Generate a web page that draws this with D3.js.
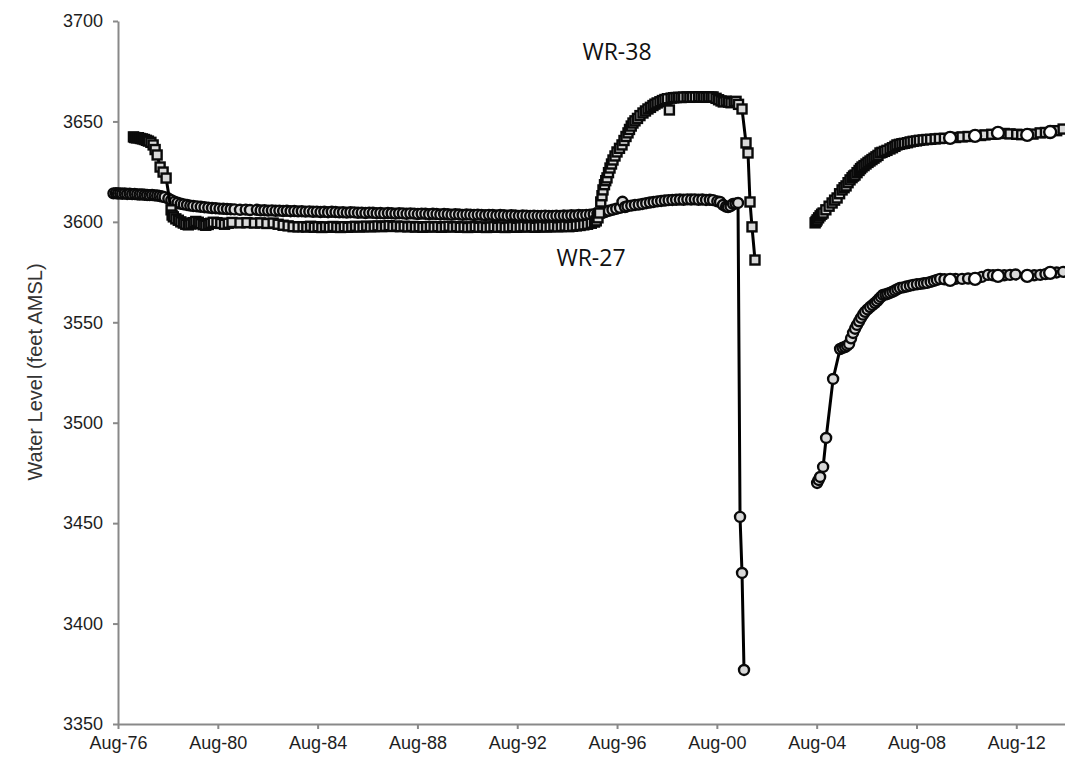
<!DOCTYPE html>
<html>
<head>
<meta charset="utf-8">
<script src="https://cdn.jsdelivr.net/npm/d3@7"></script>
<style>
  body { margin: 0; background: #fff; }
  svg { display: block; }
  .axis text { font-family: "Liberation Sans", Arial, sans-serif; font-size: 18px; fill: #1e1e1e; }
  .axis path, .axis line { stroke: #898989; stroke-width: 2; }
</style>
</head>
<body>
<script>
// water levels, [decimal year, feet AMSL]
const wr27Before = [
  [1976.40,3614.2],[1976.50,3614.3],[1976.58,3614.1],[1976.67,3614.2],[1976.75,3614.0],[1976.85,3614.1],
  [1976.95,3613.9],[1977.05,3614.0],[1977.15,3613.8],[1977.25,3613.9],[1977.35,3613.7],[1977.45,3613.6],
  [1977.55,3613.7],[1977.65,3613.5],[1977.75,3613.4],[1977.85,3613.3],[1977.95,3613.4],[1978.05,3613.2],
  [1978.15,3613.1],[1978.25,3612.9],[1978.35,3612.6],[1978.45,3612.3],[1978.60,3611.6],[1978.72,3610.8],
  [1978.85,3610.0],[1978.97,3609.5],[1979.10,3609.0],[1979.22,3608.7],[1979.35,3608.4],[1979.48,3608.1],
  [1979.60,3607.9],[1979.75,3607.7],[1979.90,3607.5],[1980.05,3607.3],[1980.20,3607.1],[1980.35,3606.9],
  [1980.50,3606.8],[1980.65,3606.6],[1980.80,3606.5],[1980.95,3606.4],[1981.10,3606.3],[1981.25,3606.2],
  [1981.47,3606.0],[1981.70,3606.1],[1981.87,3605.9],[1982.15,3606.0],[1982.30,3605.7],[1982.45,3605.8],
  [1982.60,3605.6],[1982.75,3605.7],[1982.90,3605.5],[1983.05,3605.6],[1983.20,3605.4],[1983.35,3605.5],
  [1983.50,3605.3],[1983.65,3605.4],[1983.80,3605.2],[1983.95,3605.3],[1984.10,3605.1],[1984.25,3605.2],
  [1984.40,3605.0],[1984.55,3605.1],[1984.70,3604.9],[1984.85,3605.0],[1985.00,3604.8],[1985.15,3605.0],
  [1985.30,3604.9],[1985.45,3604.7],[1985.60,3604.8],[1985.75,3604.6],[1985.90,3604.8],[1986.05,3604.7],
  [1986.20,3604.5],[1986.35,3604.6],[1986.50,3604.4],[1986.65,3604.6],[1986.80,3604.5],[1986.95,3604.3],
  [1987.10,3604.4],[1987.25,3604.2],[1987.40,3604.4],[1987.55,3604.3],[1987.70,3604.1],[1987.85,3604.3],
  [1988.00,3604.2],[1988.15,3604.0],[1988.30,3604.2],[1988.45,3604.1],[1988.60,3603.9],[1988.75,3604.1],
  [1988.90,3604.0],[1989.05,3603.8],[1989.20,3604.0],[1989.35,3603.9],[1989.50,3603.7],[1989.65,3603.9],
  [1989.80,3603.8],[1989.95,3603.6],[1990.10,3603.8],[1990.25,3603.7],[1990.40,3603.5],[1990.55,3603.7],
  [1990.70,3603.6],[1990.85,3603.4],[1991.00,3603.6],[1991.15,3603.5],[1991.30,3603.3],[1991.45,3603.5],
  [1991.60,3603.4],[1991.75,3603.2],[1991.90,3603.4],[1992.05,3603.3],[1992.20,3603.1],[1992.35,3603.3],
  [1992.50,3603.2],[1992.65,3603.0],[1992.80,3603.2],[1992.95,3603.1],[1993.10,3602.9],[1993.25,3603.1],
  [1993.40,3603.0],[1993.55,3602.9],[1993.70,3603.1],[1993.85,3603.0],[1994.00,3602.9],[1994.15,3603.1],
  [1994.30,3603.0],[1994.45,3603.2],[1994.60,3603.1],[1994.75,3603.3],[1994.90,3603.2],[1995.05,3603.4],
  [1995.20,3603.3],[1995.35,3603.5],[1995.50,3603.6],[1995.65,3603.8],[1995.80,3604.0],[1995.95,3604.3],
  [1996.10,3604.9],[1996.25,3605.5],[1996.40,3606.0],[1996.55,3606.5],[1996.70,3607.0],[1996.80,3610.0],
  [1996.90,3607.4],[1997.00,3607.8],[1997.15,3608.1],[1997.30,3608.4],[1997.45,3608.6],[1997.60,3608.9],
  [1997.75,3609.3],[1997.90,3609.6],[1998.05,3609.9],[1998.20,3610.2],[1998.35,3610.4],[1998.50,3610.6],
  [1998.65,3610.8],[1998.80,3610.9],[1998.95,3611.0],[1999.10,3611.1],[1999.25,3611.0],[1999.40,3611.2],
  [1999.55,3611.1],[1999.70,3611.2],[1999.85,3611.0],[2000.00,3611.1],[2000.15,3610.9],[2000.30,3611.0],
  [2000.43,3610.8],[2000.60,3610.2],[2000.71,3609.9],[2000.83,3608.4],[2000.95,3607.6],[2001.03,3607.4],
  [2001.13,3607.8],[2001.23,3608.9],[2001.33,3609.1],[2001.43,3609.4],[2001.51,3453.1],[2001.59,3425.2],
  [2001.67,3376.9]
];

const wr27After = [
  [2004.60,3470.0],[2004.66,3471.5],[2004.72,3473.0],[2004.84,3478.0],[2004.96,3492.4],[2005.24,3521.8],
  [2005.52,3536.7],[2005.62,3537.3],[2005.72,3537.7],[2005.80,3538.4],[2005.88,3539.2],[2005.96,3542.0],
  [2006.04,3544.7],[2006.12,3546.8],[2006.20,3548.7],[2006.28,3550.5],[2006.36,3552.2],[2006.44,3553.8],
  [2006.52,3555.2],[2006.62,3556.4],[2006.72,3557.6],[2006.82,3558.6],[2006.92,3559.6],[2007.00,3560.5],
  [2007.08,3561.6],[2007.16,3562.6],[2007.24,3563.6],[2007.34,3563.8],[2007.42,3564.2],[2007.52,3564.6],
  [2007.62,3565.2],[2007.72,3565.8],[2007.82,3566.5],[2007.92,3567.1],[2008.05,3567.4],[2008.18,3567.8],
  [2008.32,3568.2],[2008.45,3568.6],[2008.60,3568.9],[2008.75,3569.1],[2008.88,3569.4],[2009.01,3569.6],
  [2009.15,3570.1],[2009.28,3570.6],[2009.40,3571.1],[2009.53,3571.6],[2009.70,3571.4],[2010.15,3571.6],
  [2010.41,3571.6],[2010.65,3571.8],[2011.20,3572.6],[2011.45,3573.6],[2011.65,3573.4],[2012.10,3573.4],
  [2012.33,3573.6],[2012.55,3573.8],[2013.30,3573.4],[2013.54,3573.6],[2013.75,3574.0],[2014.20,3574.8],
  [2014.46,3575.1]
];

const wr38Before = [
  [1977.20,3642.3],[1977.25,3642.0],[1977.32,3641.8],[1977.40,3641.9],[1977.48,3641.5],[1977.56,3641.3],
  [1977.64,3641.0],[1977.72,3640.6],[1977.80,3640.2],[1977.90,3639.6],[1977.99,3638.3],[1978.07,3636.0],
  [1978.15,3633.3],[1978.27,3627.3],[1978.39,3624.8],[1978.51,3621.8],[1978.71,3606.0],[1978.75,3603.4],
  [1978.80,3602.5],[1978.90,3601.5],[1979.00,3600.8],[1979.10,3600.0],[1979.20,3599.4],[1979.30,3598.8],
  [1979.40,3598.5],[1979.50,3598.9],[1979.60,3599.6],[1979.70,3600.2],[1979.80,3599.8],[1979.90,3599.1],
  [1980.00,3598.6],[1980.10,3598.3],[1980.20,3598.7],[1980.30,3599.3],[1980.40,3599.8],[1980.55,3599.6],
  [1980.70,3599.2],[1980.85,3598.8],[1981.00,3599.3],[1981.15,3599.7],[1981.47,3599.5],[1981.75,3599.6],
  [1982.05,3599.4],[1982.30,3599.5],[1982.55,3599.2],[1982.80,3599.4],[1983.00,3598.8],[1983.20,3598.3],
  [1983.40,3598.0],[1983.60,3597.6],[1983.80,3597.5],[1984.00,3597.6],[1984.15,3597.4],[1984.30,3597.8],
  [1984.45,3597.3],[1984.60,3597.6],[1984.75,3597.2],[1984.90,3597.5],[1985.05,3597.3],[1985.20,3597.7],
  [1985.35,3597.4],[1985.50,3597.2],[1985.65,3597.6],[1985.80,3597.3],[1985.95,3597.5],[1986.10,3597.8],
  [1986.25,3597.4],[1986.40,3597.6],[1986.55,3597.9],[1986.70,3597.5],[1986.85,3597.7],[1987.00,3598.0],
  [1987.15,3597.6],[1987.30,3597.8],[1987.45,3598.1],[1987.60,3597.7],[1987.75,3597.9],[1987.90,3597.6],
  [1988.05,3597.8],[1988.20,3597.5],[1988.35,3597.7],[1988.50,3597.4],[1988.65,3597.6],[1988.80,3597.3],
  [1988.95,3597.5],[1989.10,3597.7],[1989.25,3597.4],[1989.40,3597.6],[1989.55,3597.3],[1989.70,3597.5],
  [1989.85,3597.8],[1990.00,3597.4],[1990.15,3597.6],[1990.30,3597.3],[1990.45,3597.5],[1990.60,3597.2],
  [1990.75,3597.4],[1990.90,3597.6],[1991.05,3597.3],[1991.20,3597.5],[1991.35,3597.2],[1991.50,3597.4],
  [1991.65,3597.6],[1991.80,3597.3],[1991.95,3597.5],[1992.10,3597.2],[1992.25,3597.4],[1992.40,3597.6],
  [1992.55,3597.3],[1992.70,3597.5],[1992.85,3597.7],[1993.00,3597.4],[1993.15,3597.6],[1993.30,3597.3],
  [1993.45,3597.5],[1993.60,3597.7],[1993.75,3597.4],[1993.90,3597.6],[1994.05,3597.8],[1994.20,3597.5],
  [1994.35,3597.7],[1994.50,3597.9],[1994.65,3597.6],[1994.80,3597.8],[1994.95,3598.0],[1995.10,3598.2],
  [1995.25,3598.5],[1995.40,3598.8],[1995.55,3599.3],[1995.68,3599.9],[1995.75,3600.5],[1995.82,3602.0],
  [1995.88,3604.4],[1995.93,3609.9],[1995.98,3613.0],[1996.02,3615.9],[1996.08,3618.5],[1996.13,3620.5],
  [1996.18,3621.9],[1996.24,3624.5],[1996.30,3626.8],[1996.36,3628.8],[1996.42,3630.8],[1996.50,3632.8],
  [1996.58,3634.8],[1996.68,3636.6],[1996.78,3638.3],[1996.86,3640.5],[1996.94,3642.5],[1997.02,3644.3],
  [1997.08,3646.0],[1997.15,3647.7],[1997.22,3649.2],[1997.30,3650.3],[1997.40,3651.5],[1997.50,3652.9],
  [1997.62,3654.2],[1997.72,3655.2],[1997.82,3656.2],[1997.92,3657.0],[1998.02,3657.9],[1998.10,3658.6],
  [1998.19,3659.2],[1998.30,3659.8],[1998.40,3660.4],[1998.50,3660.9],[1998.60,3661.3],[1998.68,3655.7],
  [1998.75,3661.6],[1998.85,3661.8],[1998.95,3661.9],[1999.05,3662.0],[1999.15,3661.9],[1999.25,3662.1],
  [1999.39,3662.2],[1999.50,3662.0],[1999.60,3662.2],[1999.72,3662.1],[1999.85,3662.3],[1999.95,3662.1],
  [2000.05,3662.2],[2000.15,3662.0],[2000.25,3662.2],[2000.35,3662.1],[2000.43,3662.2],[2000.55,3661.5],
  [2000.65,3660.8],[2000.75,3660.2],[2000.84,3659.7],[2000.95,3660.1],[2001.05,3659.6],[2001.15,3659.3],
  [2001.27,3659.8],[2001.35,3660.0],[2001.45,3658.5],[2001.59,3656.2],[2001.75,3639.3],[2001.83,3634.3],
  [2001.91,3609.9],[2001.99,3597.5],[2002.11,3581.0]
];

const wr38After = [
  [2004.52,3599.5],[2004.56,3600.2],[2004.60,3601.0],[2004.66,3602.0],[2004.72,3603.0],[2004.78,3603.8],
  [2004.84,3604.4],[2004.95,3606.0],[2005.08,3607.8],[2005.20,3609.4],[2005.30,3610.8],[2005.40,3611.9],
  [2005.50,3614.0],[2005.60,3615.9],[2005.68,3617.0],[2005.76,3617.9],[2005.84,3619.5],[2005.92,3620.9],
  [2006.00,3622.0],[2006.06,3622.8],[2006.12,3623.3],[2006.20,3624.5],[2006.28,3625.6],[2006.34,3626.5],
  [2006.40,3627.3],[2006.48,3628.0],[2006.56,3628.8],[2006.64,3629.6],[2006.72,3630.3],[2006.80,3631.0],
  [2006.88,3631.7],[2006.96,3632.4],[2007.04,3633.1],[2007.12,3634.3],[2007.20,3634.6],[2007.30,3635.1],
  [2007.40,3635.6],[2007.52,3636.3],[2007.62,3636.9],[2007.72,3637.6],[2007.80,3638.3],[2007.90,3638.6],
  [2008.00,3638.9],[2008.10,3639.1],[2008.22,3639.4],[2008.33,3639.8],[2008.45,3640.1],[2008.58,3640.3],
  [2008.70,3640.6],[2008.85,3640.8],[2009.00,3641.0],[2009.15,3641.1],[2009.33,3641.3],[2009.50,3641.5],
  [2009.70,3641.6],[2010.15,3642.0],[2010.41,3642.3],[2010.65,3642.5],[2011.15,3643.0],[2011.33,3643.3],
  [2011.60,3643.6],[2012.10,3644.0],[2012.33,3643.8],[2012.60,3643.6],[2012.80,3643.4],[2013.25,3643.7],
  [2013.54,3644.3],[2013.75,3644.5],[2014.20,3645.4],[2014.46,3646.2]
];

// later hand measurements (open circles)
const wr27Manual = [[2009.93,3571.1],[2010.93,3571.6],[2011.85,3573.1],[2013.02,3573.1],[2013.94,3574.6]];
const wr38Manual = [[2009.93,3641.8],[2010.93,3642.8],[2011.85,3644.3],[2013.02,3643.3],[2013.94,3644.7]];

const xTickLabels = ["Aug-76","Aug-80","Aug-84","Aug-88","Aug-92","Aug-96","Aug-00","Aug-04","Aug-08","Aug-12"];
const yTicks = [3350, 3400, 3450, 3500, 3550, 3600, 3650, 3700];

const width = 1065, height = 757;

const toDate = (yr) => {
  let y = Math.floor(yr);
  let a = new Date(y, 0, 1), b = new Date(y + 1, 0, 1);
  return new Date(+a + (yr - y) * (b - a));
};
const parseTick = d3.timeParse("%b-%y");

let svg = d3.select("body").append("svg")
  .attr("width", width).attr("height", height);

let x = d3.scaleTime()
  .domain([new Date(1976, 7, 1), new Date(2014, 6, 15)])
  .range([118, 1065]);
let y = d3.scaleLinear().domain([3350, 3700]).range([724, 21]);

svg.append("g").attr("class", "axis")
  .attr("transform", "translate(0,724)")
  .call(d3.axisBottom(x)
    .tickValues(xTickLabels.map(parseTick))
    .tickFormat(d3.timeFormat("%b-%y"))
    .tickSize(5).tickSizeOuter(0).tickPadding(7));

svg.append("g").attr("class", "axis")
  .attr("transform", "translate(118,0)")
  .call(d3.axisLeft(y).tickValues(yTicks).tickFormat(d3.format("d"))
    .tickSize(5).tickSizeOuter(0).tickPadding(10));

svg.append("text")
  .attr("transform", "translate(42,372) rotate(-90)")
  .attr("text-anchor", "middle")
  .style("font-family", "Liberation Sans, Arial, sans-serif")
  .style("font-size", "20px")
  .style("fill", "#333")
  .text("Water Level (feet AMSL)");

let line = d3.line()
  .x(d => x(toDate(d[0])))
  .y(d => y(d[1]));

function drawLine(data) {
  svg.append("path").datum(data)
    .attr("d", line)
    .attr("fill", "none")
    .attr("stroke", "#000")
    .attr("stroke-width", 3);
}

function drawCircles(data, fill, r) {
  svg.append("g").selectAll("circle").data(data).join("circle")
    .attr("cx", d => x(toDate(d[0])))
    .attr("cy", d => y(d[1]))
    .attr("r", r)
    .attr("fill", fill)
    .attr("stroke", "#0a0a0a")
    .attr("stroke-width", 2.4);
}

function drawSquares(data) {
  let s = 9;
  svg.append("g").selectAll("rect").data(data).join("rect")
    .attr("x", d => x(toDate(d[0])) - s / 2)
    .attr("y", d => y(d[1]) - s / 2)
    .attr("width", s).attr("height", s)
    .attr("fill", "#d9d9d9")
    .attr("stroke", "#0a0a0a")
    .attr("stroke-width", 2.4);
}

[wr27Before, wr27After].forEach(s => { drawLine(s); drawCircles(s, "#d9d9d9", 5); });
[wr38Before, wr38After].forEach(s => { drawLine(s); drawSquares(s); });
drawCircles(wr27Manual, "#fff", 6);
drawCircles(wr38Manual, "#fff", 6);

// well labels
svg.append("text").attr("x", 617).attr("y", 60)
  .attr("text-anchor", "middle")
  .style("font-family", "Open Sans, sans-serif").style("font-size", "23px").style("fill", "#111")
  .text("WR-38");
svg.append("text").attr("x", 591).attr("y", 266)
  .attr("text-anchor", "middle")
  .style("font-family", "Open Sans, sans-serif").style("font-size", "23px").style("fill", "#111")
  .text("WR-27");
</script>
</body>
</html>
